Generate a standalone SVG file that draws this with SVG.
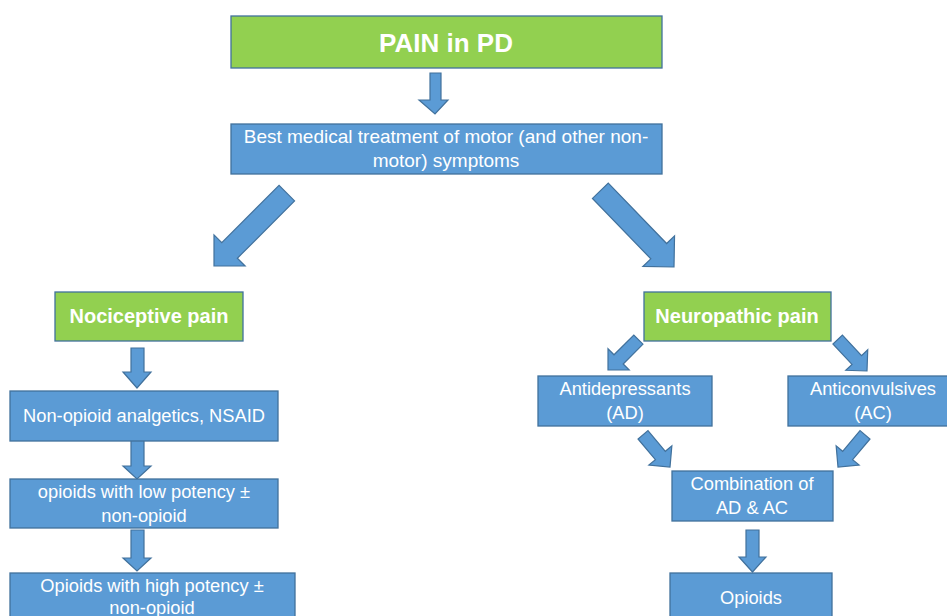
<svg xmlns="http://www.w3.org/2000/svg" width="947" height="616" viewBox="0 0 947 616">
<style>
.g{fill:#92D050;stroke:#41719C;stroke-width:1.3}
.b{fill:#5B9BD5;stroke:#41719C;stroke-width:1.3}
.a{fill:#5B9BD5;stroke:#41719C;stroke-width:1.2}
text{font-family:"Liberation Sans",Arial,sans-serif;fill:#fff;text-anchor:middle}
.t{font-size:18.3px}
.h{font-size:20px;font-weight:bold}
</style>
<rect width="947" height="616" fill="#fff"/>
<g id="connectors">
<polygon class="a" points="430,73 441,73 441,100 448,100 435,114 419,100 430,100"/>
<polygon class="a" transform="translate(214,266) rotate(135)" points="-103,-11 -22,-11 -22,-22 0,0 -22,22 -22,11 -103,11"/>
<polygon class="a" transform="translate(674,267) rotate(46)" points="-106,-11 -22,-11 -22,-22 0,0 -22,22 -22,11 -106,11"/>
<polygon class="a" points="131,348 144,348 144,372 151,372 137,388 123,372 131,372"/>
<polygon class="a" points="131,439 144,439 144,466 151,466 137,479 123,466 131,466"/>
<polygon class="a" points="131,530 144,530 144,558 151,558 137,571 123,558 131,558"/>
<polygon class="a" transform="translate(608,370) rotate(135)" points="-43,-6.5 -15,-6.5 -15,-15 0,0 -15,15 -15,6.5 -43,6.5"/>
<polygon class="a" transform="translate(867,371) rotate(47)" points="-43,-6.5 -15,-6.5 -15,-15 0,0 -15,15 -15,6.5 -43,6.5"/>
<polygon class="a" transform="translate(670,467) rotate(50)" points="-42,-6.5 -15,-6.5 -15,-15 0,0 -15,15 -15,6.5 -42,6.5"/>
<polygon class="a" transform="translate(838,467) rotate(130)" points="-42,-6.5 -15,-6.5 -15,-15 0,0 -15,15 -15,6.5 -42,6.5"/>
<polygon class="a" points="746,530 759,530 759,557 766,557 752.5,572 739,557 746,557"/>
</g>
<g id="title"><rect class="g" x="231" y="16" width="431" height="52"/><text x="446" y="52" style="font-size:26px;font-weight:bold">PAIN in PD</text></g>
<g id="best"><rect class="b" x="231" y="124" width="431" height="50"/><text class="t" x="446" y="143" style="font-size:19px">Best medical treatment of motor (and other non-</text><text class="t" x="446" y="167" style="font-size:19px">motor) symptoms</text></g>
<g id="nociceptive"><rect class="g" x="55" y="292" width="188" height="49"/><text class="h" x="149" y="323">Nociceptive pain</text></g>
<g id="neuropathic"><rect class="g" x="644" y="292" width="187" height="49"/><text class="h" x="737" y="323">Neuropathic pain</text></g>
<g id="nonopioid"><rect class="b" x="10" y="391" width="268" height="50"/><text class="t" x="144" y="422">Non-opioid analgetics, NSAID</text></g>
<g id="lowpotency"><rect class="b" x="10" y="479" width="268" height="49"/><text class="t" x="144" y="498">opioids with low potency ±</text><text class="t" x="144" y="522">non-opioid</text></g>
<g id="highpotency"><rect class="b" x="10" y="573" width="285" height="60"/><text class="t" x="152" y="592">Opioids with high potency ±</text><text class="t" x="152" y="614">non-opioid</text></g>
<g id="antidepressants"><rect class="b" x="538" y="376" width="174" height="50"/><text class="t" x="625" y="395">Antidepressants</text><text class="t" x="625" y="419">(AD)</text></g>
<g id="anticonvulsives"><rect class="b" x="788" y="376" width="170" height="50"/><text class="t" x="873" y="395">Anticonvulsives</text><text class="t" x="873" y="419">(AC)</text></g>
<g id="combination"><rect class="b" x="672" y="471" width="161" height="50"/><text class="t" x="752" y="490">Combination of</text><text class="t" x="752" y="514">AD &amp; AC</text></g>
<g id="opioids"><rect class="b" x="670" y="573" width="162" height="60"/><text class="t" x="751" y="604">Opioids</text></g>
</svg>
